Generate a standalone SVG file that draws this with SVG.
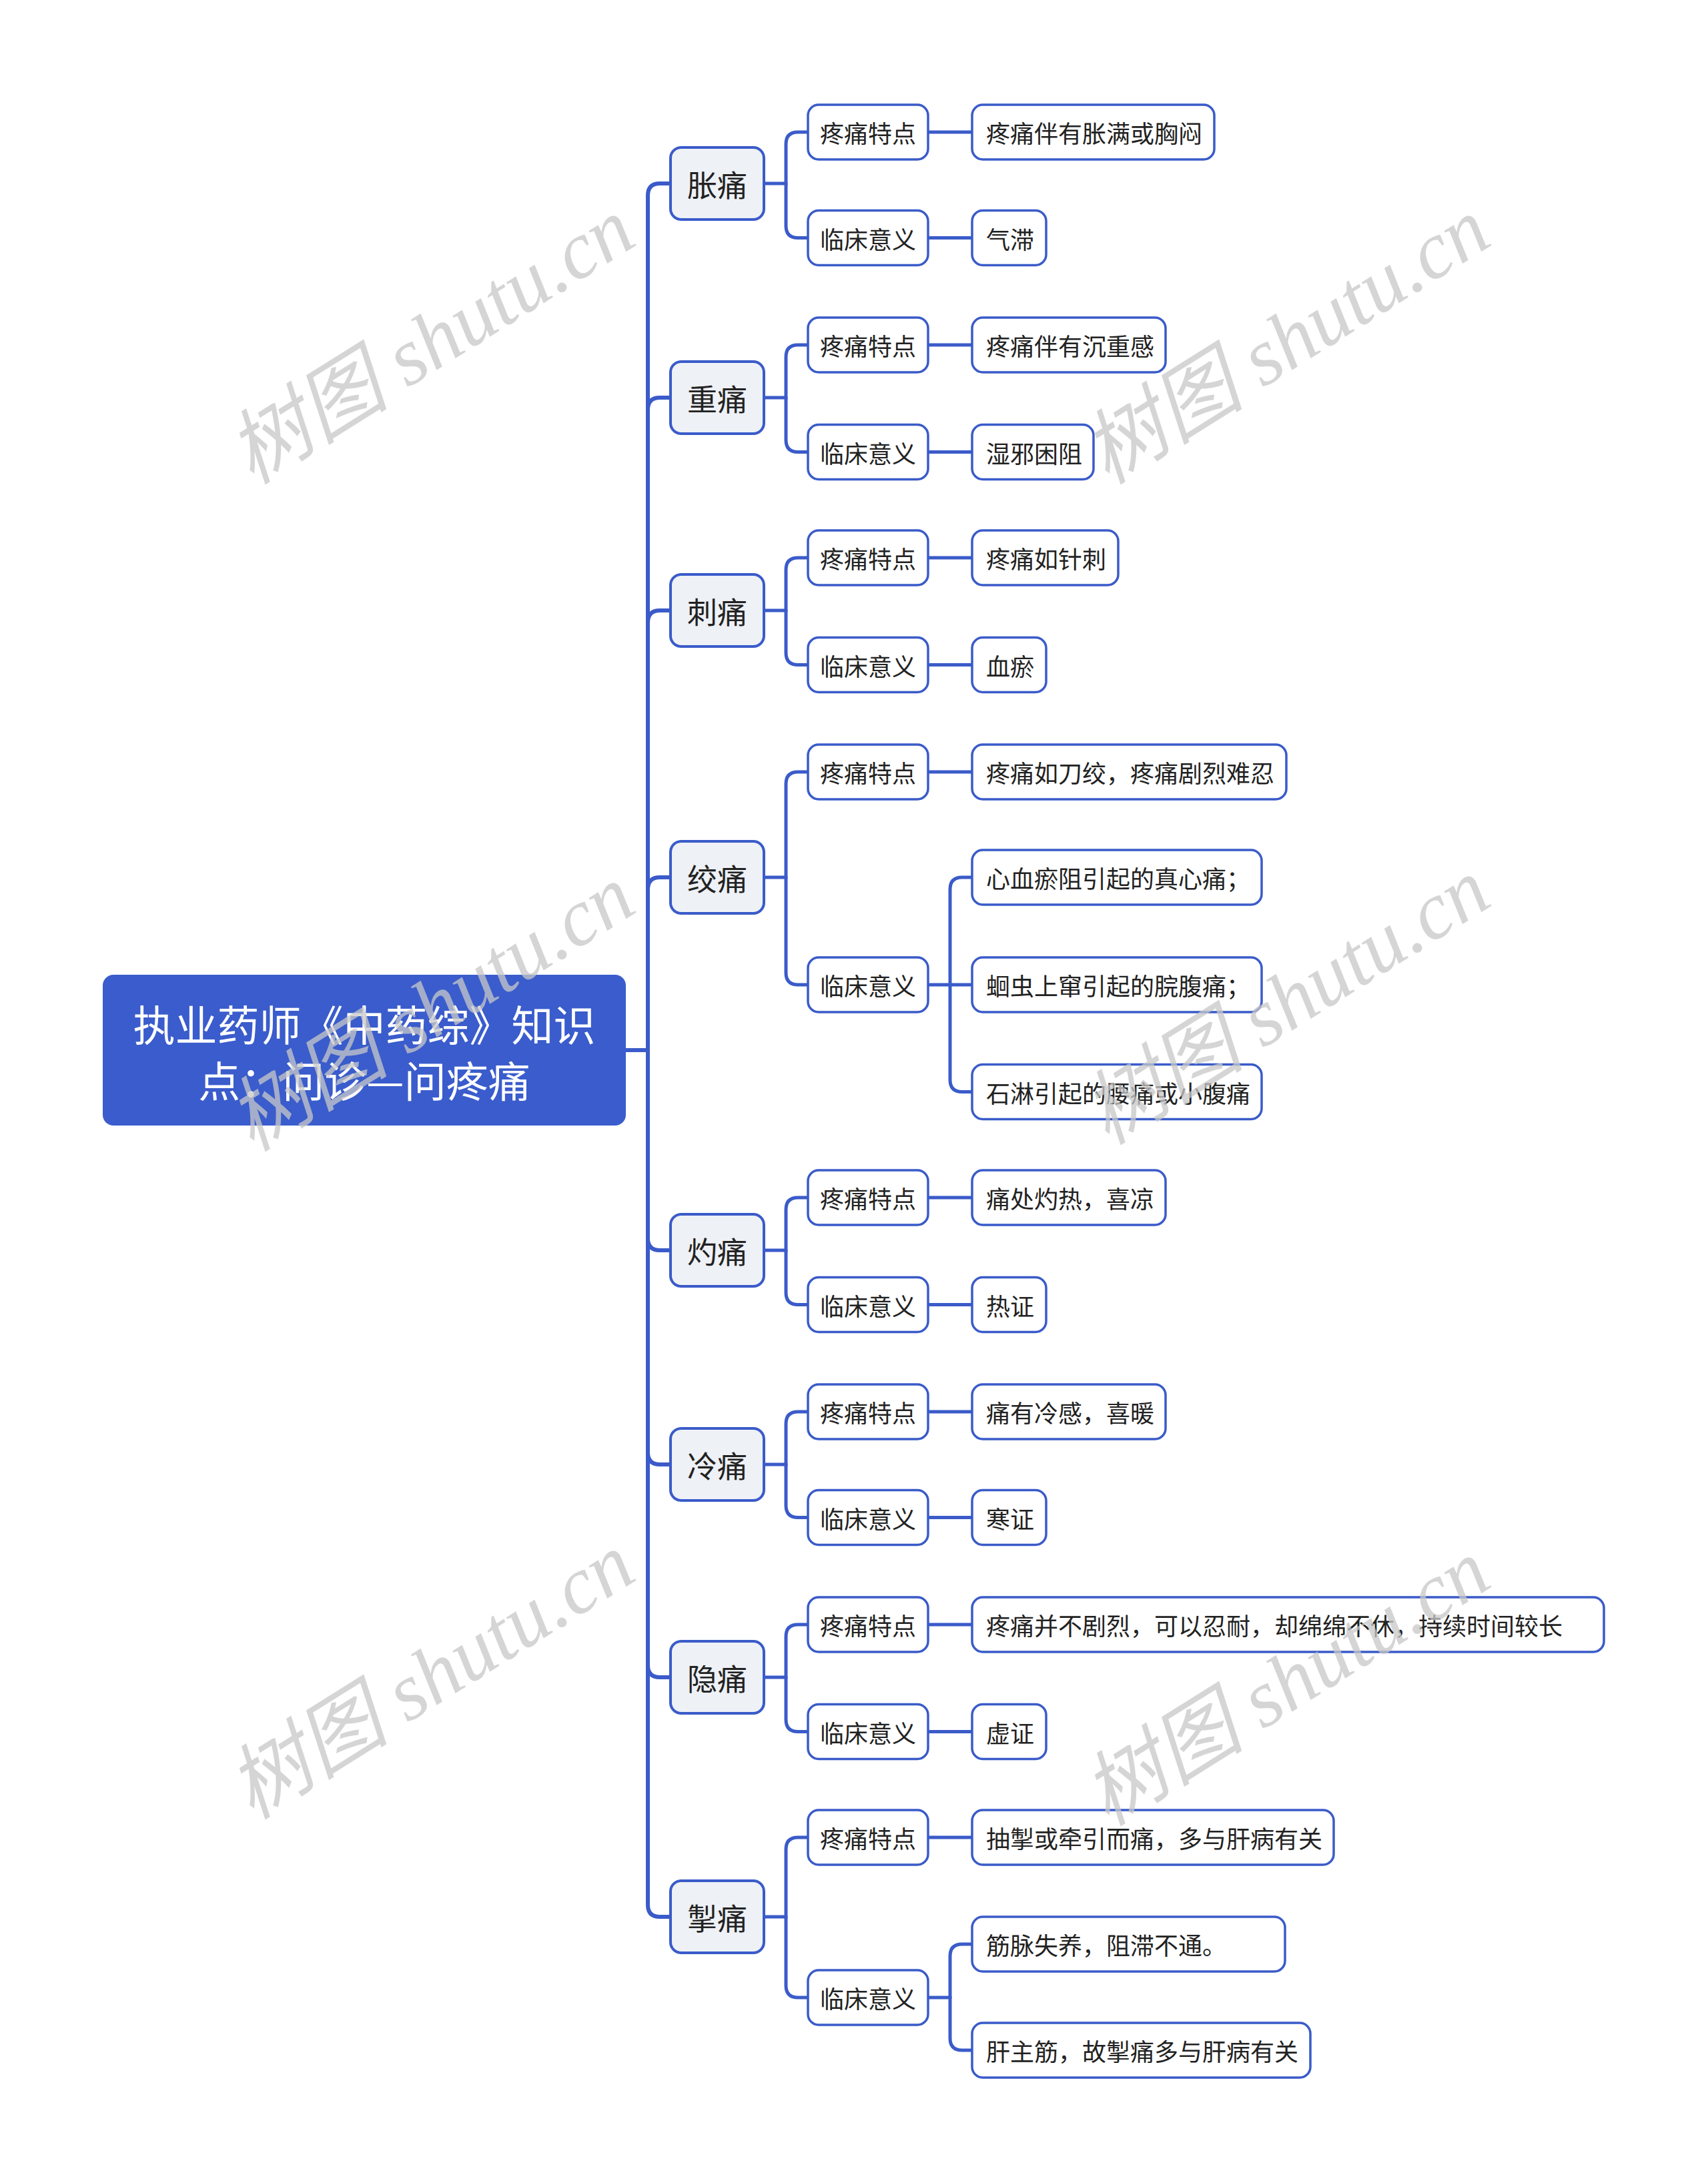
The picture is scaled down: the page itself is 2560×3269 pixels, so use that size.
<svg xmlns="http://www.w3.org/2000/svg" width="2560" height="3269" viewBox="0 0 2560 3269">
<style>
.bg{fill:#ffffff}
.root rect{fill:#3a5ccc;stroke:none}
.root text{fill:#ffffff;font-family:"Noto Sans CJK SC","Noto Sans",sans-serif;font-size:63px;text-anchor:middle;dominant-baseline:central}
.l1 rect{fill:#eef1f6;stroke:#3a5bc9;stroke-width:4}
.l1 text{fill:#222;font-family:"Noto Sans CJK SC",sans-serif;font-size:45px;text-anchor:middle;dominant-baseline:central}
.l2 rect,.l3 rect{fill:#ffffff;stroke:#3a5bc9;stroke-width:3.5}
.l2 text{fill:#222;font-family:"Noto Sans CJK SC",sans-serif;font-size:36px;text-anchor:middle;dominant-baseline:central}
.l3 text{fill:#222;font-family:"Noto Sans CJK SC",sans-serif;font-size:36px;dominant-baseline:central}
.links path{fill:none;stroke:#3a5bc9;stroke-width:5;stroke-linecap:round}
.links .trunk{stroke-width:6}
.wm{fill:#c8c8c8;opacity:0.75;font-family:"Liberation Serif","Noto Sans CJK SC",serif;font-style:italic;font-size:122px;text-anchor:middle;dominant-baseline:central}
</style>
<rect class="bg" x="0" y="0" width="2560" height="3269"/>
<g id="connectors" class="links">
<path class="trunk" d="M938,1574 H971"/>
<path class="trunk" d="M971,1574 V293 Q971,275 989,275 H1005"/>
<path class="trunk" d="M971,1574 V614 Q971,596 989,596 H1005"/>
<path class="trunk" d="M971,1574 V933 Q971,915 989,915 H1005"/>
<path class="trunk" d="M971,1574 V1333 Q971,1315 989,1315 H1005"/>
<path class="trunk" d="M971,1574 V1856 Q971,1874 989,1874 H1005"/>
<path class="trunk" d="M971,1574 V2177 Q971,2195 989,2195 H1005"/>
<path class="trunk" d="M971,1574 V2496 Q971,2514 989,2514 H1005"/>
<path class="trunk" d="M971,1574 V2855 Q971,2873 989,2873 H1005"/>

<path d="M1145,275 H1178 V216 Q1178,198 1196,198 H1211"/>
<path d="M1178,275 V338.5 Q1178,356.5 1196,356.5 H1211"/>
<path d="M1145,596 H1178 V535 Q1178,517 1196,517 H1211"/>
<path d="M1178,596 V659.5 Q1178,677.5 1196,677.5 H1211"/>
<path d="M1145,915 H1178 V854 Q1178,836 1196,836 H1211"/>
<path d="M1178,915 V978.5 Q1178,996.5 1196,996.5 H1211"/>
<path d="M1145,1315 H1178 V1175 Q1178,1157 1196,1157 H1211"/>
<path d="M1178,1315 V1458 Q1178,1476 1196,1476 H1211"/>
<path d="M1145,1874 H1178 V1813 Q1178,1795 1196,1795 H1211"/>
<path d="M1178,1874 V1937.5 Q1178,1955.5 1196,1955.5 H1211"/>
<path d="M1145,2195 H1178 V2134 Q1178,2116 1196,2116 H1211"/>
<path d="M1178,2195 V2256.5 Q1178,2274.5 1196,2274.5 H1211"/>
<path d="M1145,2514 H1178 V2453 Q1178,2435 1196,2435 H1211"/>
<path d="M1178,2514 V2577.5 Q1178,2595.5 1196,2595.5 H1211"/>
<path d="M1145,2873 H1178 V2772 Q1178,2754 1196,2754 H1211"/>
<path d="M1178,2873 V2976 Q1178,2994 1196,2994 H1211"/>

<path d="M1391,198 H1457"/>
<path d="M1391,356.5 H1457"/>
<path d="M1391,517 H1457"/>
<path d="M1391,677.5 H1457"/>
<path d="M1391,836 H1457"/>
<path d="M1391,996.5 H1457"/>
<path d="M1391,1157 H1457"/>
<path d="M1391,1476 H1457"/>
<path d="M1424,1476 V1333 Q1424,1315 1442,1315 H1457"/>
<path d="M1424,1476 V1618.5 Q1424,1636.5 1442,1636.5 H1457"/>
<path d="M1391,1795 H1457"/>
<path d="M1391,1955.5 H1457"/>
<path d="M1391,2116 H1457"/>
<path d="M1391,2274.5 H1457"/>
<path d="M1391,2435 H1457"/>
<path d="M1391,2595.5 H1457"/>
<path d="M1391,2754 H1457"/>
<path d="M1391,2994 H1424"/>
<path d="M1424,2994 V2932 Q1424,2914 1442,2914 H1457"/>
<path d="M1424,2994 V3055 Q1424,3073 1442,3073 H1457"/>
</g>

<g id="root" class="root">
<rect x="154" y="1461" width="784" height="226" rx="16"/>
<text x="546" y="1532">执业药师《中药综》知识</text>
<text x="546" y="1616">点：问诊—问疼痛</text>
</g>

<g id="n-zhangtong" class="l1"><rect x="1005" y="221" width="140" height="108" rx="16"/><text x="1075" y="275">胀痛</text></g>
<g id="n-zhongtong" class="l1"><rect x="1005" y="542" width="140" height="108" rx="16"/><text x="1075" y="596">重痛</text></g>
<g id="n-citong" class="l1"><rect x="1005" y="861" width="140" height="108" rx="16"/><text x="1075" y="915">刺痛</text></g>
<g id="n-jiaotong" class="l1"><rect x="1005" y="1261" width="140" height="108" rx="16"/><text x="1075" y="1315">绞痛</text></g>
<g id="n-zhuotong" class="l1"><rect x="1005" y="1820" width="140" height="108" rx="16"/><text x="1075" y="1874">灼痛</text></g>
<g id="n-lengtong" class="l1"><rect x="1005" y="2141" width="140" height="108" rx="16"/><text x="1075" y="2195">冷痛</text></g>
<g id="n-yintong" class="l1"><rect x="1005" y="2460" width="140" height="108" rx="16"/><text x="1075" y="2514">隐痛</text></g>
<g id="n-chetong" class="l1"><rect x="1005" y="2819" width="140" height="108" rx="16"/><text x="1075" y="2873">掣痛</text></g>

<g id="n1-a" class="l2"><rect x="1211" y="157" width="180" height="82" rx="16"/><text x="1301" y="198">疼痛特点</text></g>
<g id="n1-b" class="l2"><rect x="1211" y="315.5" width="180" height="82" rx="16"/><text x="1301" y="356.5">临床意义</text></g>
<g id="n2-a" class="l2"><rect x="1211" y="476" width="180" height="82" rx="16"/><text x="1301" y="517">疼痛特点</text></g>
<g id="n2-b" class="l2"><rect x="1211" y="636.5" width="180" height="82" rx="16"/><text x="1301" y="677.5">临床意义</text></g>
<g id="n3-a" class="l2"><rect x="1211" y="795" width="180" height="82" rx="16"/><text x="1301" y="836">疼痛特点</text></g>
<g id="n3-b" class="l2"><rect x="1211" y="955.5" width="180" height="82" rx="16"/><text x="1301" y="996.5">临床意义</text></g>
<g id="n4-a" class="l2"><rect x="1211" y="1116" width="180" height="82" rx="16"/><text x="1301" y="1157">疼痛特点</text></g>
<g id="n4-b" class="l2"><rect x="1211" y="1435" width="180" height="82" rx="16"/><text x="1301" y="1476">临床意义</text></g>
<g id="n5-a" class="l2"><rect x="1211" y="1754" width="180" height="82" rx="16"/><text x="1301" y="1795">疼痛特点</text></g>
<g id="n5-b" class="l2"><rect x="1211" y="1914.5" width="180" height="82" rx="16"/><text x="1301" y="1955.5">临床意义</text></g>
<g id="n6-a" class="l2"><rect x="1211" y="2075" width="180" height="82" rx="16"/><text x="1301" y="2116">疼痛特点</text></g>
<g id="n6-b" class="l2"><rect x="1211" y="2233.5" width="180" height="82" rx="16"/><text x="1301" y="2274.5">临床意义</text></g>
<g id="n7-a" class="l2"><rect x="1211" y="2394" width="180" height="82" rx="16"/><text x="1301" y="2435">疼痛特点</text></g>
<g id="n7-b" class="l2"><rect x="1211" y="2554.5" width="180" height="82" rx="16"/><text x="1301" y="2595.5">临床意义</text></g>
<g id="n8-a" class="l2"><rect x="1211" y="2713" width="180" height="82" rx="16"/><text x="1301" y="2754">疼痛特点</text></g>
<g id="n8-b" class="l2"><rect x="1211" y="2953" width="180" height="82" rx="16"/><text x="1301" y="2994">临床意义</text></g>

<g id="n1-a1" class="l3"><rect x="1457" y="157" width="363" height="82" rx="16"/><text x="1478" y="198">疼痛伴有胀满或胸闷</text></g>
<g id="n1-b1" class="l3"><rect x="1457" y="315.5" width="111" height="82" rx="16"/><text x="1478" y="356.5">气滞</text></g>
<g id="n2-a1" class="l3"><rect x="1457" y="476" width="290" height="82" rx="16"/><text x="1478" y="517">疼痛伴有沉重感</text></g>
<g id="n2-b1" class="l3"><rect x="1457" y="636.5" width="182" height="82" rx="16"/><text x="1478" y="677.5">湿邪困阻</text></g>
<g id="n3-a1" class="l3"><rect x="1457" y="795" width="219" height="82" rx="16"/><text x="1478" y="836">疼痛如针刺</text></g>
<g id="n3-b1" class="l3"><rect x="1457" y="955.5" width="111" height="82" rx="16"/><text x="1478" y="996.5">血瘀</text></g>
<g id="n4-a1" class="l3"><rect x="1457" y="1116" width="471" height="82" rx="16"/><text x="1478" y="1157">疼痛如刀绞，疼痛剧烈难忍</text></g>
<g id="n4-b1" class="l3"><rect x="1457" y="1274" width="434" height="82" rx="16"/><text x="1478" y="1315">心血瘀阻引起的真心痛；</text></g>
<g id="n4-b2" class="l3"><rect x="1457" y="1435" width="434" height="82" rx="16"/><text x="1478" y="1476">蛔虫上窜引起的脘腹痛；</text></g>
<g id="n4-b3" class="l3"><rect x="1457" y="1595.5" width="434" height="82" rx="16"/><text x="1478" y="1636.5">石淋引起的腰痛或小腹痛</text></g>
<g id="n5-a1" class="l3"><rect x="1457" y="1754" width="290" height="82" rx="16"/><text x="1478" y="1795">痛处灼热，喜凉</text></g>
<g id="n5-b1" class="l3"><rect x="1457" y="1914.5" width="111" height="82" rx="16"/><text x="1478" y="1955.5">热证</text></g>
<g id="n6-a1" class="l3"><rect x="1457" y="2075" width="290" height="82" rx="16"/><text x="1478" y="2116">痛有冷感，喜暖</text></g>
<g id="n6-b1" class="l3"><rect x="1457" y="2233.5" width="111" height="82" rx="16"/><text x="1478" y="2274.5">寒证</text></g>
<g id="n7-a1" class="l3"><rect x="1457" y="2394" width="947" height="82" rx="16"/><text x="1478" y="2435">疼痛并不剧烈，可以忍耐，却绵绵不休，持续时间较长</text></g>
<g id="n7-b1" class="l3"><rect x="1457" y="2554.5" width="111" height="82" rx="16"/><text x="1478" y="2595.5">虚证</text></g>
<g id="n8-a1" class="l3"><rect x="1457" y="2713" width="542" height="82" rx="16"/><text x="1478" y="2754">抽掣或牵引而痛，多与肝病有关</text></g>
<g id="n8-b1" class="l3"><rect x="1457" y="2873" width="469" height="82" rx="16"/><text x="1478" y="2914">筋脉失养，阻滞不通。</text></g>
<g id="n8-b2" class="l3"><rect x="1457" y="3032" width="507" height="82" rx="16"/><text x="1478" y="3073">肝主筋，故掣痛多与肝病有关</text></g>

<g id="watermarks">
<text class="wm" transform="translate(646,511) rotate(-32)">树图 shutu.cn</text>
<text class="wm" transform="translate(1928,511) rotate(-32)">树图 shutu.cn</text>
<text class="wm" transform="translate(646,1511) rotate(-32)">树图 shutu.cn</text>
<text class="wm" transform="translate(1928,1501) rotate(-32)">树图 shutu.cn</text>
<text class="wm" transform="translate(646,2512) rotate(-32)">树图 shutu.cn</text>
<text class="wm" transform="translate(1928,2522) rotate(-32)">树图 shutu.cn</text>
</g>
</svg>
